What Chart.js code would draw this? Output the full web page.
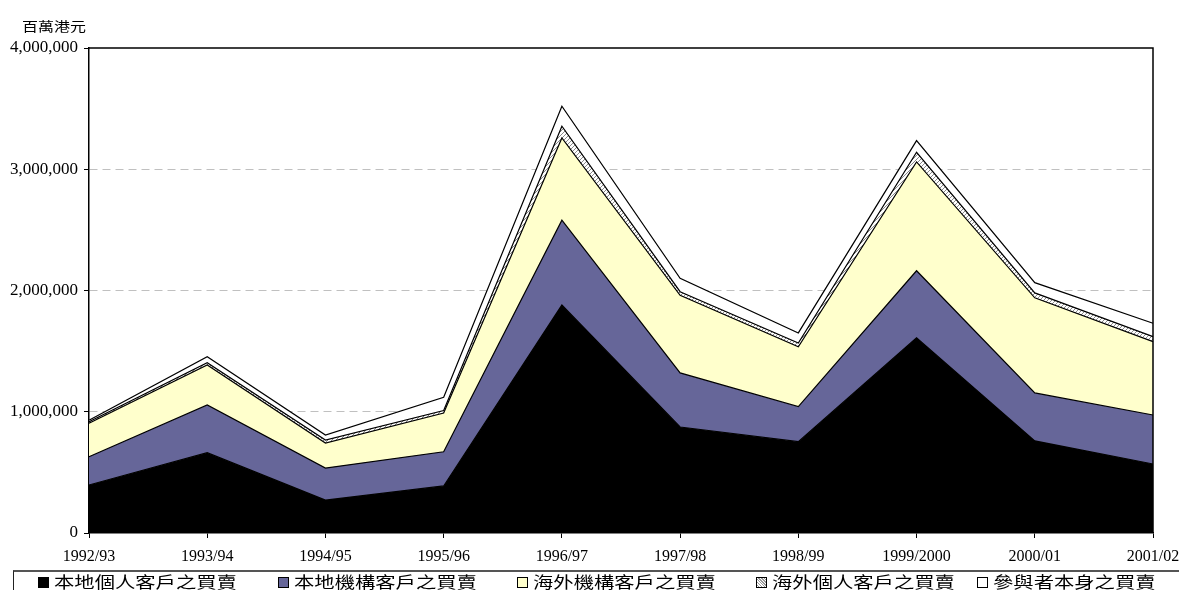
<!DOCTYPE html>
<html>
<head>
<meta charset="utf-8">
<script src="https://cdn.jsdelivr.net/npm/chart.js@4/dist/chart.umd.min.js"></script>
<style>
  html, body { margin: 0; padding: 0; background: #fff; }
  #wrap { position: relative; width: 1179px; height: 590px; overflow: hidden; }
  #unit {
    position: absolute; left: 22px; top: 16px;
    font: 13px "Noto Sans CJK TC", sans-serif; color: #000;
    transform: scaleX(1.23); transform-origin: left top; white-space: nowrap;
  }
  #legend {
    position: absolute; left: 13px; top: 570px; width: 1200px; height: 40px;
    border-top: 2px solid #555; border-left: 1px solid #222;
  }
  .item { position: absolute; top: 0; height: 20px; }
  .sw {
    position: absolute; top: 5px; left: 0; width: 11px; height: 11px;
    border: 1px solid #000; box-sizing: border-box;
  }
  .lbl {
    position: absolute; top: -3px; left: 16px; line-height: 16px;
    font: 16px "Noto Sans CJK TC", sans-serif; color: #000; white-space: nowrap;
    transform: scaleX(1.27); transform-origin: left top;
  }
</style>
</head>
<body>
<div id="wrap">
  <canvas id="myChart" width="1179" height="590"></canvas>
  <div id="unit">百萬港元</div>
  <div id="legend"></div>
</div>
<script>
// turnover by type of trading, HK$ million
const years = ['1992/93', '1993/94', '1994/95', '1995/96', '1996/97', '1997/98', '1998/99', '1999/2000', '2000/01', '2001/02'];
const localRetail = [396000, 662000, 272000, 388000, 1880000, 874000, 753000, 1610000, 760000, 569000];
const localInst = [233000, 394000, 264000, 282000, 700000, 446000, 289000, 553000, 395000, 404000];
const overseasInst = [276000, 330000, 206000, 320000, 678000, 640000, 494000, 897000, 785000, 605000];
const overseasRetail = [13000, 19000, 25000, 20000, 97000, 30000, 31000, 80000, 40000, 42000];
const principalTrading = [12000, 49000, 41000, 110000, 165000, 110000, 83000, 96000, 85000, 110000];
const yTicks = [0, 1000000, 2000000, 3000000, 4000000];

const seriesNames = ['本地個人客戶之買賣', '本地機構客戶之買賣', '海外機構客戶之買賣', '海外個人客戶之買賣', '參與者本身之買賣'];
const seriesColors = ['#000000', '#666699', '#FFFFCC', null, '#FFFFFF'];

// small grey/white diagonal hatch for the overseas retail band
function makeHatch() {
  const c = document.createElement('canvas');
  c.width = 4; c.height = 4;
  const g = c.getContext('2d');
  g.fillStyle = '#ffffff';
  g.fillRect(0, 0, 4, 4);
  g.fillStyle = '#8a8a8a';
  g.fillRect(0, 3, 1, 1);
  g.fillRect(1, 2, 1, 1);
  g.fillRect(2, 1, 1, 1);
  g.fillRect(3, 0, 1, 1);
  return g.createPattern(c, 'repeat');
}
const hatch = makeHatch();
seriesColors[3] = hatch;

function areaSet(idx, values) {
  return {
    label: seriesNames[idx],
    data: values,
    backgroundColor: seriesColors[idx],
    borderColor: '#000',
    borderWidth: 1.2,
    fill: idx === 0 ? 'origin' : '-1',
    pointRadius: 0,
    tension: 0
  };
}

// top and right edges of the plot box
const frame = {
  id: 'frame',
  afterDatasetsDraw(chart) {
    const { ctx, chartArea: a } = chart;
    ctx.save();
    ctx.strokeStyle = '#000';
    ctx.lineWidth = 1.5;
    ctx.beginPath();
    ctx.moveTo(a.left, a.top);
    ctx.lineTo(a.right, a.top);
    ctx.lineTo(a.right, a.bottom);
    ctx.stroke();
    ctx.restore();
  }
};

new Chart('myChart', {
  type: 'line',
  data: {
    labels: years,
    datasets: [
      areaSet(0, localRetail),
      areaSet(1, localInst),
      areaSet(2, overseasInst),
      areaSet(3, overseasRetail),
      areaSet(4, principalTrading)
    ]
  },
  options: {
    responsive: false,
    animation: false,
    devicePixelRatio: 1,
    layout: { padding: { left: 0, top: 48, right: 26, bottom: 0 } },
    plugins: {
      legend: { display: false },
      tooltip: { enabled: false }
    },
    scales: {
      x: {
        type: 'category',
        offset: false,
        afterFit: (scale) => {
          scale.height = 57;
          // let the last label hang past the plot edge
          scale.paddingRight = 0;
          scale.paddingLeft = 0;
        },
        grid: { display: true, drawOnChartArea: false, drawTicks: true, tickLength: 5, color: '#000' },
        border: { color: '#000', width: 1.5 },
        ticks: {
          color: '#000', maxRotation: 0, autoSkip: false, padding: 9,
          font: { family: 'Liberation Serif', size: 16 }
        }
      },
      y: {
        stacked: true,
        min: 0,
        max: 4000000,
        afterFit: (scale) => { scale.width = 89; },
        afterBuildTicks: (scale) => { scale.ticks = yTicks.map(v => ({ value: v })); },
        grid: {
          color: (c) => (c.tick && (c.tick.value === 0 || c.tick.value === 4000000)) ? 'rgba(0,0,0,0)' : '#c0c0c0',
          lineWidth: 1,
          tickColor: '#000',
          tickLength: 5
        },
        border: { color: '#000', width: 1.5, dash: [8, 5] },
        ticks: {
          color: '#000', padding: 6,
          font: { family: 'Liberation Serif', size: 17 },
          callback: (v) => Number(v).toLocaleString('en-US')
        }
      }
    }
  },
  plugins: [frame]
});

// legend row along the bottom
const legendLeft = [24, 264, 503, 742, 963];
const legendEl = document.getElementById('legend');
seriesNames.forEach((name, i) => {
  const item = document.createElement('div');
  item.className = 'item';
  item.style.left = legendLeft[i] + 'px';
  const sw = document.createElement('span');
  sw.className = 'sw';
  if (i === 3) {
    sw.style.background = 'repeating-linear-gradient(45deg, #fff 0 1px, #999 1px 2px)';
  } else {
    sw.style.background = seriesColors[i];
  }
  const lbl = document.createElement('span');
  lbl.className = 'lbl';
  lbl.textContent = name;
  item.appendChild(sw);
  item.appendChild(lbl);
  legendEl.appendChild(item);
});
</script>
</body>
</html>
